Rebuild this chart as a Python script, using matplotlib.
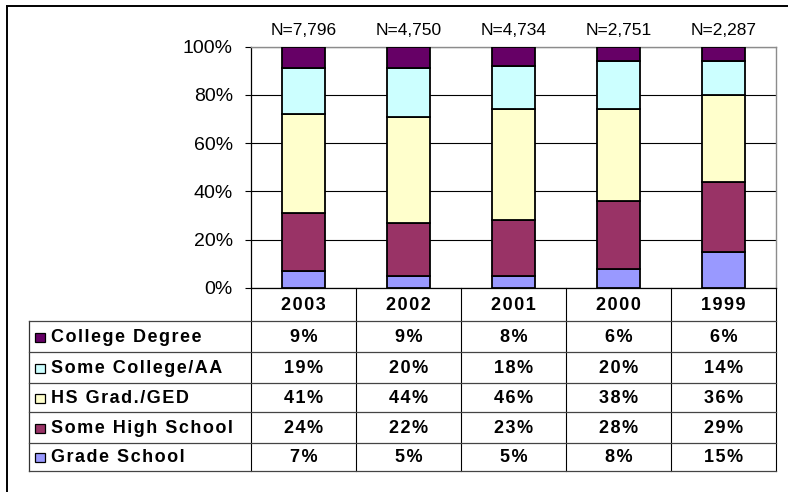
import matplotlib
matplotlib.use("Agg")
import matplotlib.pyplot as plt
from matplotlib.patches import Rectangle

# ---------------- data ----------------
years = ["2003", "2002", "2001", "2000", "1999"]
n_labels = ["N=7,796", "N=4,750", "N=4,734", "N=2,751", "N=2,287"]
grade_school = [7, 5, 5, 8, 15]
some_high_school = [24, 22, 23, 28, 29]
hs_grad = [41, 44, 46, 38, 36]
some_college = [19, 20, 18, 20, 14]
college_degree = [9, 9, 8, 6, 6]
y_ticks = [0, 20, 40, 60, 80, 100]
y_tick_labels = ["0%", "20%", "40%", "60%", "80%", "100%"]

# bottom -> top stacking order
series = [
    ("Grade School", grade_school, "#9999FF"),
    ("Some High School", some_high_school, "#993366"),
    ("HS Grad./GED", hs_grad, "#FFFFCC"),
    ("Some College/AA", some_college, "#CCFFFF"),
    ("College Degree", college_degree, "#660066"),
]

plt.rcParams["font.family"] = ["Liberation Sans", "DejaVu Sans"]

W, H = 788, 492
fig = plt.figure(figsize=(W / 100, H / 100), dpi=100)
fig.patch.set_facecolor("white")

# pixel geometry
ax_left, ax_right, ax_top, ax_bottom = 251, 776, 46.7, 288
ax = fig.add_axes([ax_left / W, 1 - ax_bottom / H,
                   (ax_right - ax_left) / W, (ax_bottom - ax_top) / H])

n = len(years)
xs = [i + 0.5 for i in range(n)]
bottom = [0] * n
for name, vals, col in series:
    ax.bar(xs, vals, bottom=bottom, width=0.41, color=col,
           edgecolor="black", linewidth=1.3, zorder=3)
    bottom = [b + v for b, v in zip(bottom, vals)]

ax.set_xlim(0, n)
ax.set_ylim(0, 100)
ax.set_yticks(y_ticks)
ax.set_yticklabels(y_tick_labels, fontsize=14)
ax.set_xticks([])
ax.yaxis.grid(True, color="black", linewidth=0.8)
ax.set_axisbelow(True)
ax.tick_params(axis="y", length=4.5, width=0.8, pad=8.5, direction="out")
ax.spines["left"].set_color("black")
ax.spines["left"].set_linewidth(0.9)
ax.spines["bottom"].set_color("black")
ax.spines["bottom"].set_linewidth(0.9)
for s in ("top", "right"):
    ax.spines[s].set_color("#8c8c8c")
    ax.spines[s].set_linewidth(1.0)

for x, lab in zip(xs, n_labels):
    ax.annotate(lab, xy=(x, 100), xytext=(0, 12), textcoords="offset points",
                ha="center", va="center", fontsize=12.5)

# ---------------- overlay (frame + data table) ----------------
ov = fig.add_axes([0, 0, 1, 1], zorder=5)
ov.set_xlim(0, W)
ov.set_ylim(H, 0)
ov.axis("off")
ov.patch.set_alpha(0)

# outer frame (only left/top visible in the reference)
ov.plot([6.7, 6.7], [6, H + 5], color="black", lw=1.4, solid_capstyle="butt")
ov.plot([6, W + 5], [6, 6], color="black", lw=1.4, solid_capstyle="butt")

def spaced(s):
    return "\u200a".join(list(s))

col_w = (ax_right - ax_left) / n
col_edges = [ax_left + i * col_w for i in range(n + 1)]
col_centers = [ax_left + (i + 0.5) * col_w for i in range(n)]

tab_left = 29
header_bottom = 320.7
row_lines = [header_bottom, 352.3, 382.7, 412.3, 442.7, 470.7]

# vertical lines
for xe in col_edges:
    ov.plot([xe, xe], [ax_bottom, row_lines[-1]], color="black", lw=0.8)
ov.plot([tab_left, tab_left], [header_bottom, row_lines[-1]], color="#333333", lw=0.9)
# horizontal lines
for yl in row_lines:
    ov.plot([tab_left, ax_right], [yl, yl], color="#444444", lw=0.9)

FS = 13
# header years
for xc, yr in zip(col_centers, years):
    ov.text(xc, (ax_bottom + header_bottom) / 2 + 1, spaced(yr), ha="center",
            va="center", fontsize=FS, fontweight="bold")

# rows (top -> bottom)
table_rows = list(reversed(series))
for r, (name, vals, col) in enumerate(table_rows):
    yc = (row_lines[r] + row_lines[r + 1]) / 2 + 1
    ov.add_patch(Rectangle((35.5, yc - 5), 9.5, 9.5, facecolor=col,
                           edgecolor="black", lw=0.9))
    ov.text(51, yc, spaced(name), ha="left", va="center", fontsize=FS,
            fontweight="bold")
    for xc, v in zip(col_centers, vals):
        ov.text(xc, yc, spaced(f"{v}%"), ha="center", va="center",
                fontsize=FS, fontweight="bold")

fig.savefig("out.png", dpi=100, facecolor="white")
